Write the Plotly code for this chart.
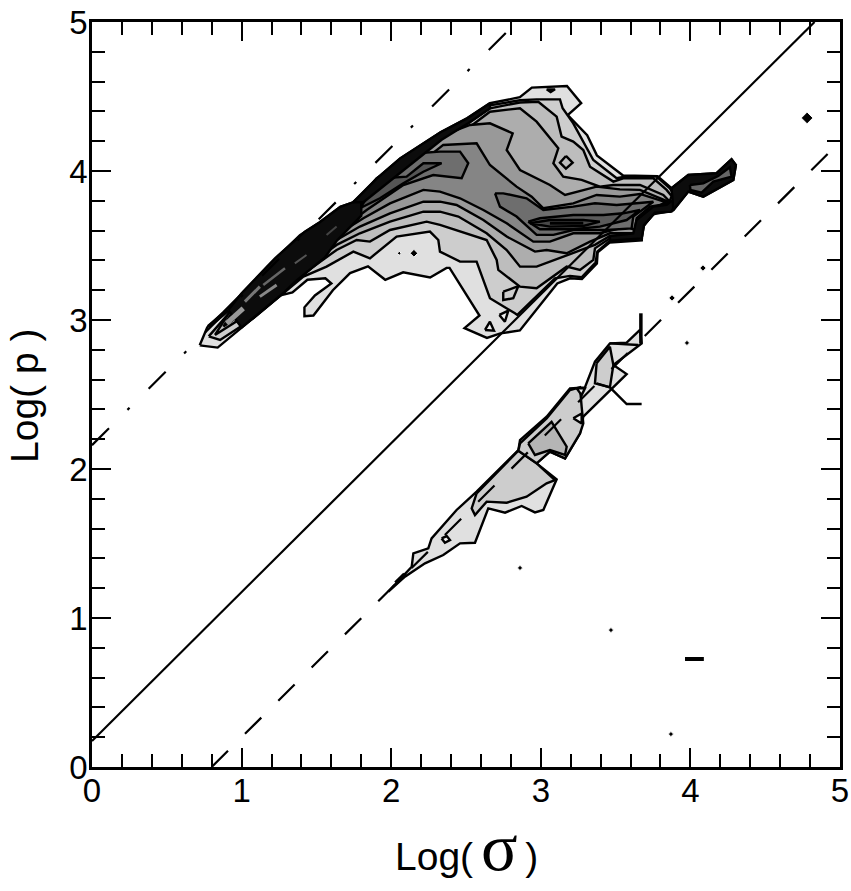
import plotly.graph_objects as go

# ---- upper island: nested contour levels, (log sigma, log p) ----
L1 = [(.72,2.83),(.77,2.95),(.875,3.05),(1.01,3.185),(1.17,3.355),(1.39,3.57),(1.52,3.655),(1.66,3.76),(1.745,3.79),(1.905,3.95),
      (2.06,4.085),(2.33,4.26),(2.51,4.355),(2.66,4.455),(2.86,4.495),(2.94,4.56),(3.175,4.57),(3.27,4.455),(3.18,4.375),(3.31,4.24),
      (3.375,4.105),(3.55,3.97),(3.78,3.965),(3.874,3.884),(3.986,3.973),(4.175,3.985),(4.275,4.079),(4.304,4.04),(4.287,3.94),(4.086,3.828),
      (3.986,3.862),(3.885,3.735),(3.75,3.71),(3.68,3.62),(3.675,3.535),(3.46,3.52),(3.38,3.455),(3.375,3.38),(3.275,3.275),(3.195,3.28),
      (3.11,3.245),(2.86,2.93),(2.73,2.91),(2.64,2.88),(2.49,2.945),(2.59,3.03),(2.39,3.35),(2.37,3.35),(2.26,3.285),(2.08,3.32),
      (1.96,3.27),(1.845,3.36),(1.725,3.315),(1.61,3.20),(1.48,3.03),(1.42,3.025),(1.42,3.085),(1.49,3.165),(1.60,3.245),(1.56,3.28),
      (1.44,3.27),(1.34,3.185),(1.26,3.165),(1.08,3.015),(.84,2.815),(.72,2.83)]
L2 = [(.78,2.89),(.90,3.03),(1.02,3.165),(1.18,3.335),(1.40,3.55),(1.53,3.635),(1.67,3.74),(1.75,3.77),(1.91,3.93),(2.07,4.065),
      (2.34,4.24),(2.52,4.335),(2.66,4.44),(2.86,4.475),(2.972,4.481),(3.128,4.481),(3.146,4.421),(3.217,4.32),(3.306,4.152),(3.351,4.074),
      (3.507,3.951),(3.562,3.962),(3.774,3.962),(3.863,3.884),(3.886,3.846),(3.90,3.82),(3.863,3.727),(3.763,3.72),(3.69,3.638),(3.674,3.548),
      (3.462,3.533),(3.378,3.459),(3.366,3.385),(3.273,3.287),(3.195,3.296),(3.095,3.28),(2.843,3.034),(2.827,3.045),(2.66,3.146),(2.571,3.392),
      (2.46,3.392),(2.326,3.459),(2.315,3.537),(2.259,3.593),(2.036,3.56),(1.858,3.414),(1.747,3.459),(1.568,3.358),(1.413,3.291),(1.279,3.179),
      (1.078,3.011),(.856,2.866),(.78,2.89)]
L3 = [(.822,2.90),(.922,3.056),(1.022,3.157),(1.179,3.325),(1.401,3.537),(1.535,3.627),(1.669,3.727),(1.758,3.765),(1.914,3.917),(2.07,4.052),
      (2.337,4.231),(2.515,4.32),(2.66,4.421),(2.86,4.46),(2.983,4.465),(3.106,4.365),(3.139,4.231),(3.217,4.197),(3.284,4.141),(3.329,4.029),
      (3.485,3.929),(3.551,3.951),(3.752,3.951),(3.841,3.873),(3.874,3.832),(3.841,3.738),(3.752,3.727),(3.674,3.649),(3.663,3.56),(3.462,3.548),
      (3.362,3.481),(3.351,3.403),(3.262,3.336),(3.173,3.358),(2.972,3.213),(2.861,3.224),(2.716,3.336),(2.705,3.403),(2.638,3.537),(2.326,3.638),
      (2.237,3.66),(1.992,3.604),(1.858,3.526),(1.769,3.537),(1.635,3.47),(1.479,3.358),(1.279,3.19),(1.034,3.034),(.822,2.90)]
L4 = [(.878,2.956),(.945,3.067),(1.045,3.168),(1.2,3.336),(1.424,3.548),(1.557,3.638),(1.691,3.738),(1.791,3.783),(1.936,3.917),(2.092,4.04),
      (2.37,4.22),(2.527,4.298),(2.66,4.398),(2.861,4.421),(2.972,4.331),(3.117,4.152),(3.084,4.052),(3.15,3.962),(3.273,3.94),(3.395,3.895),
      (3.485,3.906),(3.663,3.906),(3.819,3.839),(3.863,3.794),(3.819,3.75),(3.752,3.738),(3.663,3.66),(3.652,3.571),(3.462,3.564),(3.362,3.504),
      (3.329,3.492),(3.15,3.425),(2.972,3.358),(2.861,3.358),(2.772,3.47),(2.638,3.582),(2.449,3.694),(2.326,3.727),(2.215,3.727),(1.992,3.66),
      (1.791,3.582),(1.635,3.504),(1.479,3.392),(1.279,3.235),(1.056,3.078),(.878,2.956)]
L5 = [(.911,2.978),(.978,3.09),(1.067,3.179),(1.223,3.347),(1.446,3.56),(1.58,3.649),(1.713,3.75),(1.814,3.794),(1.958,3.917),(2.114,4.029),
      (2.348,4.24),(2.527,4.309),(2.66,4.32),(2.812,4.253),(2.772,4.141),(2.861,4.007),(3.061,3.906),(3.162,3.839),(3.373,3.895),(3.529,3.877),
      (3.663,3.873),(3.852,3.794),(3.808,3.761),(3.741,3.75),(3.652,3.671),(3.64,3.582),(3.462,3.582),(3.329,3.526),(3.173,3.448),(3.039,3.47),
      (2.961,3.459),(2.772,3.56),(2.616,3.671),(2.437,3.772),(2.326,3.794),(2.215,3.794),(1.992,3.716),(1.791,3.627),(1.635,3.537),(1.502,3.436),
      (1.301,3.28),(1.078,3.112),(.911,2.978)]
L6 = [(.934,3.0),(1.0,3.12),(1.245,3.358),(1.468,3.571),(1.602,3.66),(1.735,3.761),(1.836,3.806),(1.98,3.906),(2.137,4.007),(2.348,4.175),
      (2.571,4.186),(2.66,4.04),(2.838,3.895),(2.939,3.828),(3.017,3.75),(3.217,3.783),(3.373,3.839),(3.529,3.828),(3.663,3.846),(3.84,3.79),
      (3.797,3.772),(3.73,3.761),(3.641,3.683),(3.63,3.604),(3.574,3.627),(3.395,3.582),(3.217,3.582),(3.061,3.526),(2.95,3.526),(2.772,3.649),
      (2.616,3.738),(2.46,3.817),(2.326,3.862),(2.215,3.873),(1.992,3.783),(1.814,3.683),(1.635,3.571),(1.524,3.481),(1.323,3.313),(1.101,3.146),(.934,3.0)]
L7_LEFT = [(.956,3.023),(1.123,3.179),(1.346,3.358),(1.546,3.526),(1.658,3.604),(1.836,3.738),(2.081,3.906),(2.281,3.973),(2.471,3.951),(2.515,4.052),
           (2.46,4.13),(2.326,4.13),(2.17,4.119),(2.036,4.029),(1.903,3.951),(1.769,3.794),(1.613,3.694),(1.39,3.515),(1.19,3.336),(1.011,3.157),(.956,3.023)]
L7_RIGHT = [(2.694,3.85),(2.749,3.85),(2.905,3.817),(3.017,3.738),(3.217,3.761),(3.362,3.783),(3.507,3.772),(3.663,3.783),(3.752,3.794),(3.707,3.76),
            (3.618,3.694),(3.607,3.615),(3.44,3.604),(3.217,3.604),(3.084,3.571),(2.972,3.571),(2.838,3.694),(2.727,3.761),(2.694,3.85)]
L8_LEFT = [(1.791,3.75),(1.858,3.85),(1.947,3.951),(2.103,3.962),(2.215,4.052),(2.337,4.052),(2.215,3.995),(2.081,3.917),(1.925,3.817),(1.791,3.75)]
L8_RIGHT = [(2.916,3.66),(2.994,3.683),(3.217,3.705),(3.418,3.705),(3.551,3.716),(3.663,3.738),(3.574,3.671),(3.395,3.627),(3.217,3.609),(2.994,3.609),(2.916,3.66)]
L9_RIGHT = [(2.928,3.649),(3.061,3.671),(3.284,3.671),(3.395,3.66),(3.284,3.631),(3.061,3.627),(2.928,3.649)]
CORE_LINE = [(3.061,3.649),(3.284,3.649)]
BAND = [(.911,3.067),(1.0,3.18),(1.223,3.414),(1.423,3.593),(1.52,3.655),(1.66,3.76),(1.745,3.79),(1.80,3.83),(1.80,3.70),(1.635,3.53),
        (1.557,3.42),(1.468,3.345),(1.356,3.256),(1.29,3.19),(1.08,3.015),(1.0,2.95),(.911,3.067)]
TOP_BAND = [(1.745,3.79),(1.905,3.95),(2.06,4.085),(2.33,4.26),(2.51,4.355),(2.66,4.455),(2.66,4.42),(2.515,4.32),(2.337,4.21),(2.114,4.03),(1.958,3.90),(1.814,3.79),(1.745,3.79)]
BAND_E = [(3.462,3.533),(3.674,3.548),(3.69,3.638),(3.763,3.72),(3.874,3.727),(3.941,3.85),(3.841,3.772),(3.752,3.761),(3.64,3.671),(3.618,3.582),(3.462,3.564),(3.462,3.533)]
TAIL = [(3.874,3.884),(3.986,3.973),(4.175,3.985),(4.275,4.079),(4.304,4.04),(4.287,3.94),(4.086,3.828),(3.986,3.862),(3.886,3.738),(3.874,3.884)]
TAIL_IN = [(3.997,3.906),(4.086,3.917),(4.186,3.967),(4.264,4.025),(4.275,3.962),(4.153,3.929),(4.075,3.855),(4.0,3.873),(3.997,3.906)]
TIP_EDGE = [(.777,2.955),(.911,3.067)]
STREAKS = [([(.90,2.978),(1.011,3.078)],"#999999",5),([(1.022,3.123),(1.122,3.224)],"#777777",3),
           ([(1.122,3.157),(1.234,3.235)],"#888888",3),([(1.145,3.235),(1.29,3.347)],"#666666",2.5),
           ([(1.356,3.38),(1.434,3.436)],"#555555",2),([(1.568,3.57),(1.635,3.627)],"#444444",2)]
DIAMOND = [(3.168,4.101),(3.213,4.056),(3.168,4.016),(3.128,4.056),(3.168,4.101)]
TRI_A = [(2.627,2.933),(2.66,2.989),(2.687,2.929),(2.627,2.933)]
TRI_B = [(2.723,3.034),(2.783,3.063),(2.76,2.989),(2.723,3.034)]
WING = [(2.749,3.19),(2.85,3.228),(2.816,3.146),(2.749,3.134),(2.749,3.19)]
NOTCH = [(3.039,4.548),(3.095,4.548),(3.066,4.53),(3.039,4.548)]

# ---- lower island ----
M1 = [(1.981,1.177),(2.081,1.288),(2.137,1.344),(2.148,1.434),(2.248,1.467),(2.27,1.534),(2.437,1.725),(2.571,1.848),(2.85,2.127),(2.861,2.194),
      (3.039,2.351),(3.195,2.541),(3.295,2.548),(3.362,2.72),(3.462,2.843),(3.574,2.848),(3.663,2.933),(3.674,2.843),(3.485,2.698),(3.574,2.637),
      (3.284,2.351),(3.262,2.239),(3.162,2.071),(3.061,2.116),(2.972,2.038),(3.106,1.931),(3.017,1.725),(2.961,1.709),(2.872,1.752),(2.761,1.707),
      (2.649,1.736),(2.56,1.505),(2.46,1.501),(2.348,1.423),(2.226,1.367),(2.092,1.277),(1.981,1.177)]
M2_LOW = [(2.571,1.837),(2.85,2.123),(2.972,2.038),(3.095,1.926),(3.039,1.904),(2.905,1.814),(2.772,1.774),(2.638,1.781),(2.56,1.691),(2.538,1.736),(2.571,1.837)]
M2_UP = [(2.861,2.172),(3.039,2.34),(3.195,2.53),(3.262,2.548),(3.273,2.418),(3.284,2.306),(3.262,2.239),(3.162,2.071),(3.061,2.116),(2.972,2.038),(2.85,2.123),(2.861,2.172)]
M3 = [(2.916,2.172),(3.072,2.317),(3.173,2.15),(3.162,2.094),(3.061,2.127),(2.961,2.094),(2.916,2.172)]
M4 = [(3.373,2.709),(3.462,2.821),(3.485,2.698),(3.462,2.548),(3.362,2.575),(3.373,2.709)]
HOLE_A = [(2.337,1.534),(2.371,1.55),(2.393,1.523),(2.359,1.505),(2.337,1.534)]
HOLE_B = [(3.24,2.541),(3.295,2.541),(3.273,2.496),(3.24,2.541)]
HOLE_C = [(3.217,2.34),(3.273,2.373),(3.273,2.306),(3.217,2.34)]
STEM = [(3.669,3.045),(3.669,2.843)]
HOOK = [(3.373,2.575),(3.462,2.548),(3.574,2.436),(3.674,2.436)]
CAP = [(3.462,2.843),(3.652,2.832)]
BAR = [(3.964,.725),(4.09,.725)]
LOW_TIP = [(2.03,1.235),(2.09,1.295)]

DOT_X = [2.152,2.054,4.78,3.877,4.084,3.977,2.861,3.469,3.87]
DOT_Y = [3.448,3.448,4.356,3.148,3.349,2.846,1.336,.919,.221]
DOT_SIZE = [6,3,9,5,5,4,4,4,4]

# ---- reference lines ----
SOLID_LINE = [(0,.175),(4.83,5)]
LOWER_LINE = [(.8,0),(4.93,4.127)]
UPPER_LINE = [(0,2.16),(2.84,5)]
TICKS = [0,1,2,3,4,5]

polys = [(L1,"#e0e0e0"),(L2,"#cdcdcd"),(L3,"#bdbdbd"),(L4,"#adadad"),(L5,"#999999"),(L6,"#858585"),
         (L7_LEFT,"#6e6e6e"),(L7_RIGHT,"#6e6e6e"),(L8_LEFT,"#555555"),(L8_RIGHT,"#5a5a5a"),(L9_RIGHT,"#484848"),
         (BAND,"#0c0c0c"),(TOP_BAND,"#0c0c0c"),(BAND_E,"#0c0c0c"),(TAIL,"#0c0c0c"),(TAIL_IN,"#666666"),
         (DIAMOND,"#bdbdbd"),(TRI_A,"#f0f0f0"),(TRI_B,"#f0f0f0"),(WING,"#cdcdcd"),(NOTCH,"#f0f0f0"),
         (M1,"#e0e0e0"),(M2_LOW,"#cdcdcd"),(M2_UP,"#cdcdcd"),(M3,"#b5b5b5"),(M4,"#cdcdcd"),
         (HOLE_A,"#f0f0f0"),(HOLE_B,"#f0f0f0"),(HOLE_C,"#f0f0f0")]

fig = go.Figure()
for pts, col in polys:
    fig.add_trace(go.Scatter(x=[p[0] for p in pts], y=[p[1] for p in pts], mode="lines", fill="toself",
                             fillcolor=col, line=dict(color="black", width=2.4), hoverinfo="skip", showlegend=False))
for seg, col, w in STREAKS:
    fig.add_trace(go.Scatter(x=[p[0] for p in seg], y=[p[1] for p in seg], mode="lines",
                             line=dict(color=col, width=w), hoverinfo="skip", showlegend=False))
for seg, w in [(CORE_LINE,3),(TIP_EDGE,4),(STEM,3.5),(HOOK,2.4),(CAP,2.4),(BAR,4),(LOW_TIP,4)]:
    fig.add_trace(go.Scatter(x=[p[0] for p in seg], y=[p[1] for p in seg], mode="lines",
                             line=dict(color="black", width=w), hoverinfo="skip", showlegend=False))
for seg, dash in [(SOLID_LINE,"solid"),(LOWER_LINE,"23px,24px"),(UPPER_LINE,"24px,26px,3px,27px")]:
    fig.add_trace(go.Scatter(x=[p[0] for p in seg], y=[p[1] for p in seg], mode="lines",
                             line=dict(color="black", width=2.2, dash=dash), hoverinfo="skip", showlegend=False))
fig.add_trace(go.Scatter(x=DOT_X, y=DOT_Y, mode="markers", marker=dict(color="black", size=DOT_SIZE, opacity=1, symbol="diamond"),
                         hoverinfo="skip", showlegend=False))

axis = dict(range=[0,5], tickmode="array", tickvals=TICKS, ticktext=[str(t) for t in TICKS], ticks="inside", ticklen=19, tickwidth=2,
            tickcolor="black", showline=True, linewidth=2.5, linecolor="black", mirror="ticks", showgrid=False, zeroline=False, automargin=False,
            tickfont=dict(family="Liberation Sans", size=33, color="black"),
            minor=dict(dtick=0.2, tick0=0, ticks="inside", ticklen=13, tickwidth=2, tickcolor="black", showgrid=False))
fig.update_layout(width=851, height=891, margin=dict(l=92, r=11, t=22, b=124), paper_bgcolor="white", plot_bgcolor="white",
                  xaxis=dict(axis, ticklabelstandoff=-7), yaxis=dict(axis, ticklabelstandoff=-5),
                  annotations=[
                      dict(text="Log(\u2009<span style='font-size:68px;font-family:Liberation Serif'>σ</span>\u2009)", xref="paper", yref="paper",
                           x=0.5, y=0, xanchor="center", yanchor="middle", yshift=-80, xshift=0, showarrow=False,
                           font=dict(family="Liberation Sans", size=39, color="black")),
                      dict(text="Log( p )", xref="paper", yref="paper", x=0, y=0.5, xanchor="center", yanchor="middle", xshift=-68, yshift=-1.5,
                           textangle=-90, showarrow=False, font=dict(family="Liberation Sans", size=39, color="black"))])
fig.write_html("out.html", post_script="document.body.style.margin='0';", config={"displayModeBar": False})
